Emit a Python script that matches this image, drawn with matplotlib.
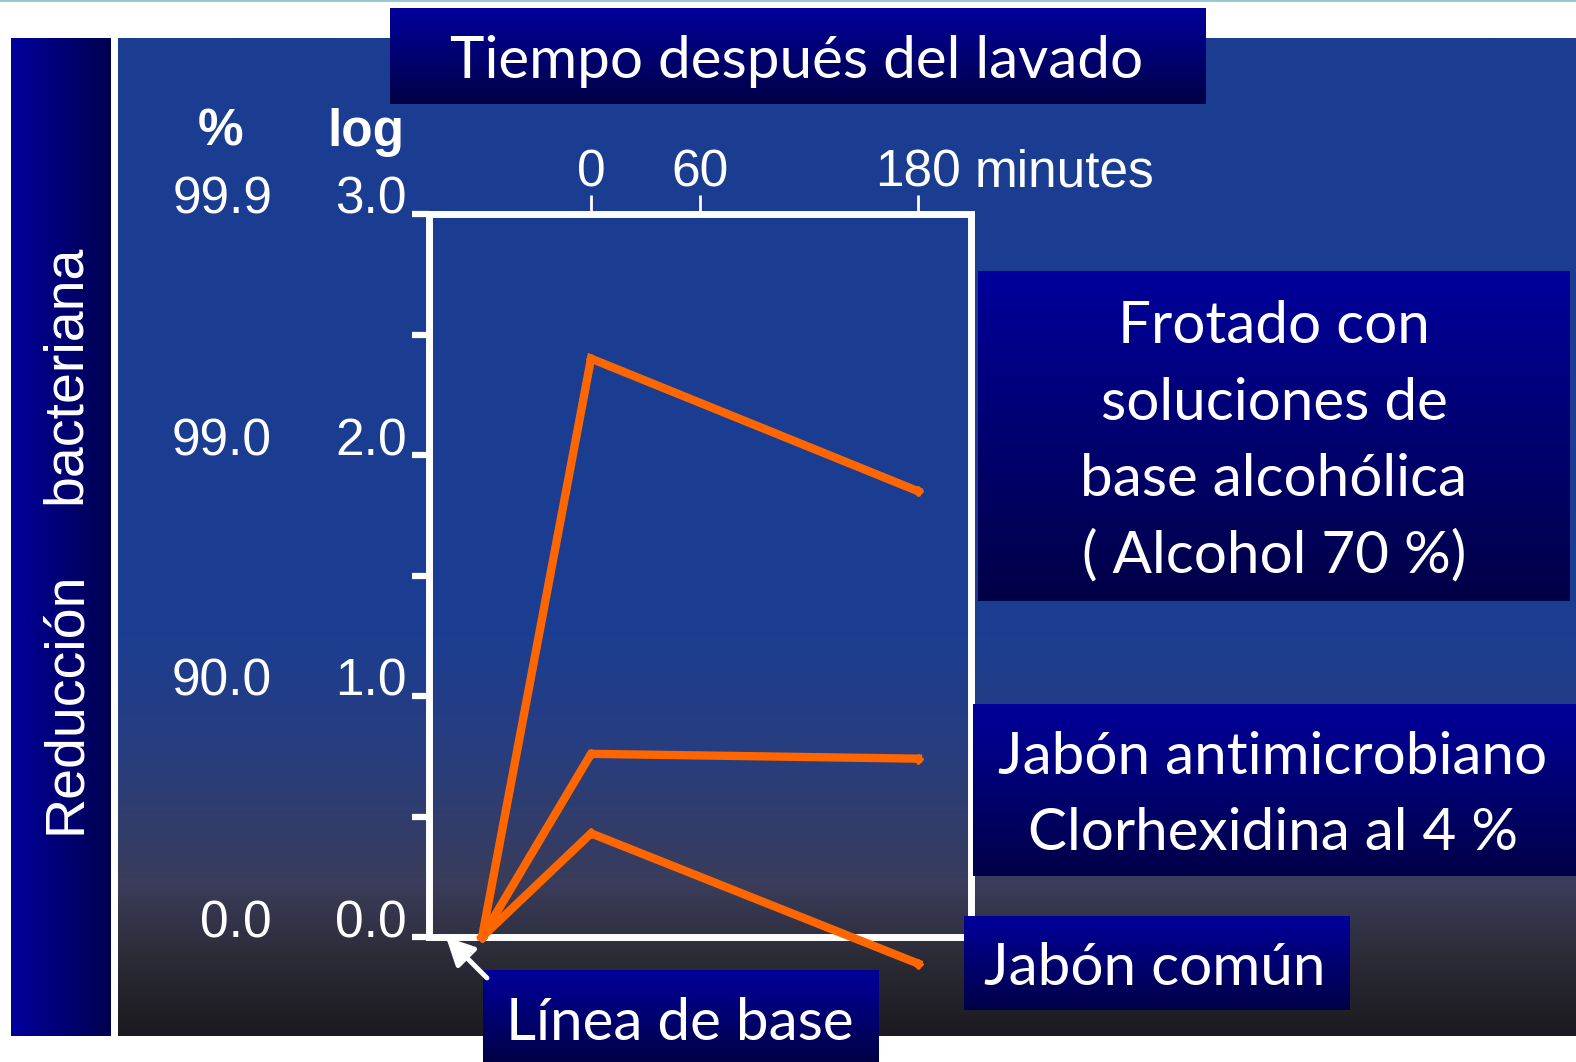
import numpy as np
import matplotlib
matplotlib.use("Agg")
import matplotlib.pyplot as plt
from matplotlib.patches import FancyArrowPatch

# ---------------- data ----------------
time_min = [-60, 0, 180]
alcohol = [0.0, 2.40, 1.85]
clorhexidina = [0.0, 0.76, 0.74]
jabon_comun = [0.0, 0.43, -0.11]

log_ticks = [0.0, 0.5, 1.0, 1.5, 2.0, 2.5, 3.0]
log_label_vals = [0.0, 1.0, 2.0, 3.0]
log_labels = ["0.0", "1.0", "2.0", "3.0"]
pct_labels = ["0.0", "90.0", "99.0", "99.9"]
time_ticks = [0, 60, 180]
time_labels = ["0", "60", "180"]

title_text = "Tiempo después del lavado"
ylabel_parts = ["Reducción", "bacteriana"]
label_alcohol = ["Frotado con", "soluciones de", "base alcohólica", "( Alcohol 70 %)"]
label_clorhex = ["Jabón antimicrobiano", "Clorhexidina al 4 %"]
label_jabon = "Jabón común"
label_base = "Línea de base"

# ---------------- figure ----------------
W, H = 1576, 1062
DPI = 100
fig = plt.figure(figsize=(W / DPI, H / DPI), dpi=DPI)
fig.patch.set_facecolor("white")

bg = fig.add_axes([0, 0, 1, 1])
bg.set_xlim(0, W)
bg.set_ylim(H, 0)
bg.axis("off")

ORANGE = "#FF6600"
SANS = ["Liberation Sans", "DejaVu Sans"]
CAL = ["Lato", "DejaVu Sans"]


def vgrad(ax, x0, x1, y0, y1, stops_y, stops_c, z=0):
    n = 400
    ys = np.linspace(0, 1, n)
    cols = np.array(stops_c, dtype=float) / 255.0
    img = np.stack([np.interp(ys, stops_y, cols[:, k]) for k in range(3)], axis=-1)
    img = img[:, None, :]
    ax.imshow(img, extent=[x0, x1, y1, y0], origin="upper", aspect="auto",
              interpolation="bilinear", zorder=z)


def hgrad(ax, x0, x1, y0, y1, c0, c1, z=0):
    n = 200
    xs = np.linspace(0, 1, n)
    c0 = np.array(c0) / 255.0
    c1 = np.array(c1) / 255.0
    img = c0[None, :] * (1 - xs[:, None]) + c1[None, :] * xs[:, None]
    img = img[None, :, :]
    ax.imshow(img, extent=[x0, x1, y1, y0], origin="upper", aspect="auto",
              interpolation="bilinear", zorder=z)


# thin top line
bg.plot([0, W], [0.8, 0.8], color="#9cc6d4", lw=1.5, zorder=1)

# left vertical bar
hgrad(bg, 11, 111, 38, 1036, (0, 0, 155), (0, 0, 80), z=1)
# main panel
vgrad(bg, 118, W, 38, 1036,
      [0.0, 0.6, 0.72, 0.85, 0.93, 1.0],
      [(27, 62, 146), (28, 61, 145), (40, 62, 126), (58, 60, 90), (42, 42, 52), (28, 26, 32)], z=1)

# left bar text
bg.text(80, 703, ylabel_parts[0], rotation=90, rotation_mode="anchor",
        ha="center", va="baseline", color="white", fontsize=40, family=SANS, zorder=3)
bg.text(80, 374, ylabel_parts[1], rotation=90, rotation_mode="anchor",
        ha="center", va="baseline", color="white", fontsize=40, family=SANS, zorder=3)

# column headers
bg.text(221, 146, "%", ha="center", va="baseline", color="white",
        fontsize=37, fontweight="bold", family=SANS, zorder=3)
bg.text(366, 146, "log", ha="center", va="baseline", color="white",
        fontsize=37, fontweight="bold", family=SANS, zorder=3)

# ---------------- data axes ----------------
bx0, bx1, by0, by1 = 429, 971, 214, 937
ax = fig.add_axes([bx0 / W, 1 - by1 / H, (bx1 - bx0) / W, (by1 - by0) / H])
ax.set_facecolor("none")
ax.set_xlim(-89.2, 209.2)
ax.set_ylim(0, 3.0)
for s in ax.spines.values():
    s.set_color("white")
    s.set_linewidth(5)

ax.set_yticks(log_ticks)
ax.set_yticklabels([])
ax.tick_params(axis="y", direction="out", length=12, width=4.5, color="white", left=True)
ax.xaxis.tick_top()
ax.set_xticks(time_ticks)
ax.set_xticklabels([])
ax.tick_params(axis="x", direction="out", length=14, width=2, color="white", top=True, bottom=False)

# y labels (log and %)
for v, lab, plab in zip(log_label_vals, log_labels, pct_labels):
    ax.annotate(lab, xy=(0, v), xycoords=("axes fraction", "data"),
                xytext=(-16, 0), textcoords="offset points", ha="right", va="baseline",
                color="white", fontsize=37, family=SANS, annotation_clip=False)
    ax.annotate(plab, xy=(0, v), xycoords=("axes fraction", "data"),
                xytext=(-113, 0), textcoords="offset points", ha="right", va="baseline",
                color="white", fontsize=37, family=SANS, annotation_clip=False)

# top time labels
for t, lab in zip(time_ticks, time_labels):
    ax.annotate(lab, xy=(t, 1), xycoords=("data", "axes fraction"),
                xytext=(0, 20), textcoords="offset points", ha="center", va="baseline",
                color="white", fontsize=37, family=SANS, annotation_clip=False)
ax.annotate("minutes", xy=(time_ticks[-1], 1), xycoords=("data", "axes fraction"),
            xytext=(41, 20), textcoords="offset points", ha="left", va="baseline",
            color="white", fontsize=37, family=SANS, annotation_clip=False)

# series
for ys in (alcohol, clorhexidina, jabon_comun):
    ax.plot(time_min, ys, color=ORANGE, lw=6, marker="D", markersize=5.5,
            solid_joinstyle="miter", clip_on=False, zorder=5)

# ---------------- foreground callouts ----------------
fg = fig.add_axes([0, 0, 1, 1])
fg.set_xlim(0, W)
fg.set_ylim(H, 0)
fg.axis("off")
fg.patch.set_alpha(0)

BOX_TOP = (0, 0, 155)
BOX_BOT = (0, 0, 70)


def box(x0, x1, y0, y1):
    vgrad(fg, x0, x1, y0, y1, [0.0, 1.0], [BOX_TOP, BOX_BOT], z=2)


box(390, 1206, 8, 104)
fg.text(797, 78, title_text, ha="center", va="baseline", color="white",
        fontsize=42, family=CAL, zorder=3)

box(978, 1570, 271, 601)
for yb, line in zip([343, 420, 496, 572], label_alcohol):
    fg.text(1274, yb, line, ha="center", va="baseline", color="white",
            fontsize=42, family=CAL, zorder=3)

box(973, W, 704, 876)
for yb, line in zip([774, 850], label_clorhex):
    fg.text(1273, yb, line, ha="center", va="baseline", color="white",
            fontsize=42, family=CAL, zorder=3)

box(964, 1350, 916, 1010)
fg.text(1155, 985, label_jabon, ha="center", va="baseline", color="white",
        fontsize=42, family=CAL, zorder=3)

box(483, 879, 970, H)
fg.text(680, 1040, label_base, ha="center", va="baseline", color="white",
        fontsize=42, family=CAL, zorder=3)

arr = FancyArrowPatch((487, 978), (446, 937), arrowstyle="-|>", mutation_scale=42,
                      color="white", lw=3.5, zorder=4, shrinkA=0, shrinkB=0)
fg.add_patch(arr)

fig.savefig("out.png", dpi=DPI, facecolor="white")
